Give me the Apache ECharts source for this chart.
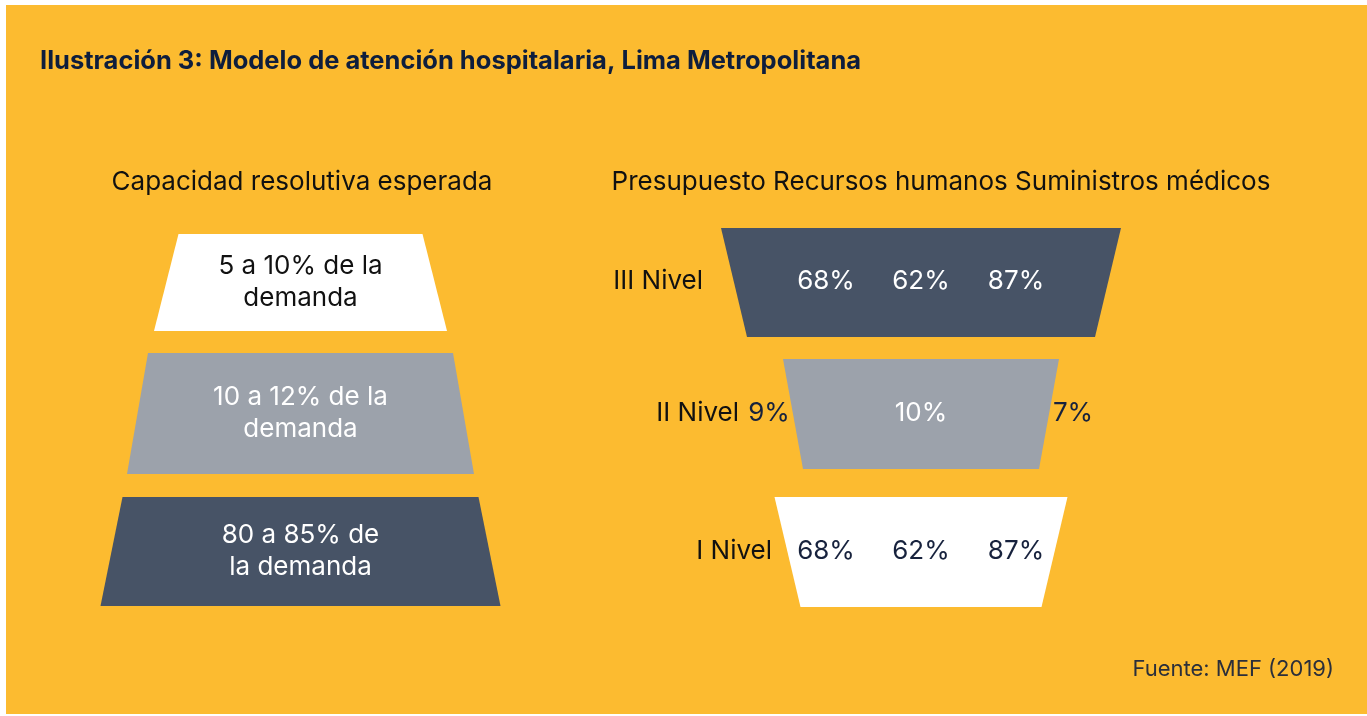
<!DOCTYPE html>
<html lang="es">
<head>
<meta charset="UTF-8">
<title>Modelo de atención hospitalaria</title>
<style>
  html, body { margin: 0; padding: 0; background: #ffffff; }
  #chart { position: absolute; left: 6px; top: 5px; width: 1361px; height: 709px; }
</style>
</head>
<body>
<div id="chart"></div>
<script src="https://cdn.jsdelivr.net/npm/echarts@6/dist/echarts.min.js"></script>
<script>
// ---- data ----
var leftTiers = ['5 a 10% de la\ndemanda', '10 a 12% de la\ndemanda', '80 a 85% de\nla demanda'];
var leftTopWidth = [244, 305, 356];
var leftBottomWidth = [293, 347, 400];
var leftRowStart = [0, 119, 263];
var leftRowEnd = [97, 240, 372];

var rightLevels = ['III Nivel', 'II Nivel', 'I Nivel'];
var rightColumns = ['Presupuesto', 'Recursos humanos', 'Suministros médicos'];
var presupuesto = [68, 9, 68];
var recursosHumanos = [62, 10, 62];
var suministros = [87, 7, 87];
var rightTopWidth = [400, 276, 293];
var rightBottomWidth = [348, 236, 241];
var rightRowStart = [0, 131, 269];
var rightRowEnd = [109, 241, 379];

// ---- styles ----
var YELLOW = '#FCBB30';
var DARK = '#475366';
var GRAY = '#9CA2AB';
var WHITE = '#FFFFFF';
var NAVY = '#17223D';
var FONT = 'Inter, "Noto Sans", sans-serif';

var leftFill = [WHITE, GRAY, DARK];
var leftText = ['#111111', WHITE, WHITE];
var rightFill = [DARK, GRAY, WHITE];
var rightText = [WHITE, WHITE, NAVY];
// layout helpers (axis units)
var rowLabelEnd = [-218, -182, -149];
var colOffset = [-95, 0, 95];
var sidesOutside = [false, true, false];
var outsideOffset = 152;

var chart = echarts.init(document.getElementById('chart'));

function trapezoid(api, top, bottom, tw, bw) {
  return [
    api.coord([-tw / 2, top]),
    api.coord([tw / 2, top]),
    api.coord([bw / 2, bottom]),
    api.coord([-bw / 2, bottom])
  ];
}

var leftData = leftTiers.map(function (t, i) {
  return [leftRowStart[i], leftRowEnd[i], leftTopWidth[i], leftBottomWidth[i], i];
});
var rightData = rightLevels.map(function (t, i) {
  return [rightRowStart[i], rightRowEnd[i], rightTopWidth[i], rightBottomWidth[i], i];
});

var option = {
  backgroundColor: YELLOW,
  animation: false,
  grid: [
    { left: 94.5, top: 229, width: 400, height: 372 },
    { left: 715, top: 223, width: 400, height: 379 }
  ],
  xAxis: [
    { gridIndex: 0, type: 'value', min: -200, max: 200, show: false },
    { gridIndex: 1, type: 'value', min: -200, max: 200, show: false }
  ],
  yAxis: [
    { gridIndex: 0, type: 'value', min: 0, max: 372, inverse: true, show: false },
    { gridIndex: 1, type: 'value', min: 0, max: 379, inverse: true, show: false }
  ],
  graphic: [
    {
      type: 'text', x: 34, y: 56,
      style: {
        text: 'Ilustración 3: Modelo de atención hospitalaria, Lima Metropolitana',
        font: 'bold 25.5px ' + FONT, fill: '#0E1E3D', textAlign: 'left', textVerticalAlign: 'middle'
      }
    },
    {
      type: 'text', x: 296, y: 177,
      style: { text: 'Capacidad resolutiva esperada', font: '26px ' + FONT, fill: '#111111', textAlign: 'center', textVerticalAlign: 'middle' }
    },
    {
      type: 'text', x: 935, y: 177,
      style: { text: rightColumns.join(' '), font: '26px ' + FONT, fill: '#111111', textAlign: 'center', textVerticalAlign: 'middle' }
    },
    {
      type: 'text', x: 1328, y: 664,
      style: { text: 'Fuente: MEF (2019)', font: '22px ' + FONT, fill: '#2B2F3A', textAlign: 'right', textVerticalAlign: 'middle' }
    }
  ],
  series: [
    {
      type: 'custom',
      xAxisIndex: 0,
      yAxisIndex: 0,
      data: leftData,
      renderItem: function (params, api) {
        var top = api.value(0), bottom = api.value(1);
        var i = api.value(4);
        var mid = api.coord([0, (top + bottom) / 2]);
        return {
          type: 'group',
          children: [
            {
              type: 'polygon',
              shape: { points: trapezoid(api, top, bottom, api.value(2), api.value(3)) },
              style: { fill: leftFill[i] }
            },
            {
              type: 'text',
              x: mid[0], y: mid[1],
              style: {
                text: leftTiers[i], font: '26px ' + FONT, fill: leftText[i],
                textAlign: 'center', textVerticalAlign: 'middle', lineHeight: 32
              }
            }
          ]
        };
      }
    },
    {
      type: 'custom',
      xAxisIndex: 1,
      yAxisIndex: 1,
      data: rightData,
      renderItem: function (params, api) {
        var top = api.value(0), bottom = api.value(1);
        var i = api.value(4);
        var midY = (top + bottom) / 2;
        var vals = [presupuesto[i], recursosHumanos[i], suministros[i]];
        var children = [
          {
            type: 'polygon',
            shape: { points: trapezoid(api, top, bottom, api.value(2), api.value(3)) },
            style: { fill: rightFill[i] }
          }
        ];
        var lp = api.coord([rowLabelEnd[i], midY]);
        children.push({
          type: 'text', x: lp[0], y: lp[1] - 1,
          style: { text: rightLevels[i], font: '26px ' + FONT, fill: '#111111', textAlign: 'right', textVerticalAlign: 'middle' }
        });
        vals.forEach(function (v, k) {
          var off = colOffset[k];
          var color = rightText[i];
          if (sidesOutside[i] && k !== 1) {
            off = k === 0 ? -outsideOffset : outsideOffset;
            color = NAVY;
          }
          var p = api.coord([off, midY]);
          children.push({
            type: 'text', x: p[0], y: p[1] - 1,
            style: { text: v + '%', font: '26px ' + FONT, fill: color, textAlign: 'center', textVerticalAlign: 'middle' }
          });
        });
        return { type: 'group', children: children };
      }
    }
  ]
};
chart.setOption(option);
</script>
</body>
</html>
